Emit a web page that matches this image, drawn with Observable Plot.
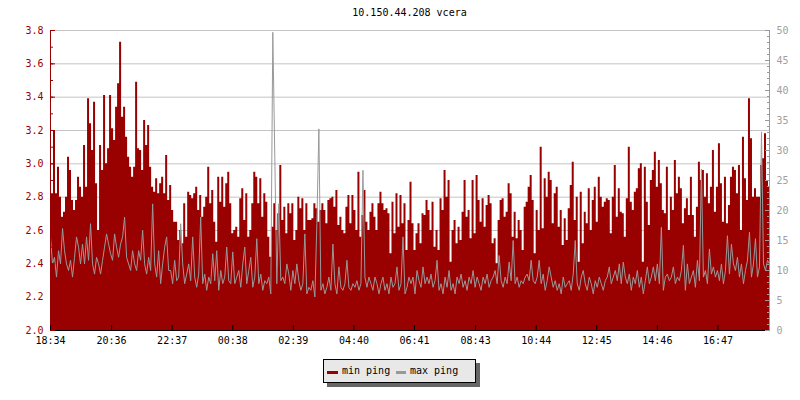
<!DOCTYPE html>
<html><head><meta charset="utf-8">
<script src="https://cdn.jsdelivr.net/npm/d3@7"></script>
<script src="https://cdn.jsdelivr.net/npm/@observablehq/plot@0.6"></script>
<style>
body{margin:0;background:#fff;font-family:"DejaVu Sans Mono",monospace;}
#wrap{position:relative;width:800px;height:400px;overflow:hidden;}
#title{position:absolute;top:7px;left:0;width:819px;text-align:center;font-size:10px;line-height:12px;color:#000;}
#legend{position:absolute;left:323px;top:359px;width:151px;height:22px;background:#e8e8e8;border:1px solid #000;box-shadow:4px 4px 0 #666;font-size:10px;}
#legend .sw{position:absolute;top:11px;height:3px;}
#legend .tx{position:absolute;top:5px;line-height:12px;color:#000;white-space:nowrap;}
</style></head><body>
<div id="wrap"><div id="chart"></div>
<div id="title">10.150.44.208 vcera</div>
<div id="legend"><span class="sw" id="sw1" style="left:3px;width:11px"></span><span class="tx" id="tx1" style="left:18px"></span><span class="sw" id="sw2" style="left:72px;width:10px"></span><span class="tx" id="tx2" style="left:86px"></span></div>
</div>
<script>
const seriesNames = ["min ping", "max ping"];
const seriesColors = ["#990000", "#999999"];
const stepMin = 4; // minutes between samples, starting 18:34
const xTickLabels = ["18:34","20:36","22:37","00:38","02:39","04:40","06:41","08:43","10:44","12:45","14:46","16:47"];
const leftTickLabels = ["2.0","2.2","2.4","2.6","2.8","3.0","3.2","3.4","3.6","3.8"];
const rightTickLabels = ["0","5","10","15","20","25","30","35","40","45","50"];

// min ping (left axis, ms)
const minPing = [
2.89,2.82,3.20,2.82,2.98,2.80,2.68,2.71,2.80,3.04,
2.96,2.78,2.72,2.78,2.92,2.86,2.80,3.11,2.86,3.39,
3.24,3.08,3.37,2.88,2.60,3.11,2.96,3.41,3.00,3.09,
3.41,3.21,3.14,3.34,3.48,3.73,3.28,3.34,3.16,3.04,
2.98,2.92,2.98,3.49,3.09,3.08,2.96,3.26,3.11,3.23,
2.98,2.86,2.83,2.91,2.82,2.88,2.92,2.82,3.05,2.78,
2.87,2.72,2.65,2.65,2.54,2.60,2.52,2.76,2.56,2.83,
2.81,2.79,2.82,2.86,2.72,2.81,2.68,2.74,2.80,2.98,
2.76,2.84,2.65,2.53,2.92,2.77,2.92,2.74,2.88,2.95,
2.76,2.58,2.60,2.62,2.56,2.79,2.85,2.66,2.82,2.56,
2.60,2.76,2.95,2.92,2.76,2.91,2.68,2.82,2.77,2.56,
2.44,2.62,2.76,2.60,2.70,2.99,2.66,2.74,2.58,2.76,
2.70,2.76,2.54,2.60,2.80,2.73,2.79,2.60,2.76,2.66,
2.66,2.67,2.76,2.73,2.65,2.72,2.76,2.72,2.64,2.78,
2.79,2.80,2.74,2.84,2.63,2.68,2.60,2.58,2.74,2.81,
2.64,2.81,2.72,2.60,2.95,2.56,2.69,2.84,2.65,2.60,
2.71,2.76,2.68,2.60,2.76,2.83,2.76,2.72,2.73,2.70,
2.46,2.77,2.58,2.82,2.62,2.81,2.64,2.76,2.48,2.66,
2.89,2.64,2.48,2.58,2.64,2.52,2.70,2.69,2.78,2.72,
2.60,2.77,2.50,2.60,2.48,2.79,2.72,2.96,2.80,2.90,
2.41,2.60,2.66,2.52,2.62,2.54,2.71,2.90,2.68,2.72,
2.55,2.90,2.58,2.93,2.78,2.65,2.79,2.62,2.75,2.81,
2.76,2.52,2.55,2.40,2.66,2.78,2.79,2.68,2.71,2.88,
2.82,2.56,2.71,2.55,2.66,2.60,2.48,2.74,2.77,2.86,
2.93,2.78,2.46,2.72,2.60,3.10,2.61,2.91,2.80,2.95,
2.90,2.64,2.82,2.86,2.62,2.72,2.51,2.67,2.54,2.73,
2.87,3.01,2.66,2.80,2.41,2.83,2.52,2.71,2.64,2.85,
2.60,2.78,2.86,2.65,2.92,2.80,2.74,2.77,2.79,2.78,
2.58,2.80,2.99,2.68,2.85,2.71,2.70,2.56,2.79,3.10,
2.77,2.72,2.83,2.85,2.97,3.00,2.41,2.98,2.77,2.63,
2.90,2.96,3.07,2.86,3.02,2.88,2.72,2.70,2.98,2.60,
2.80,2.72,3.02,2.82,2.92,2.85,2.64,2.73,2.79,2.69,
2.92,2.69,2.56,2.74,3.01,2.90,2.96,2.80,2.94,2.76,
2.86,3.08,2.71,2.86,3.12,2.88,2.65,2.92,2.64,2.75,
2.92,2.98,2.96,2.82,2.99,2.60,3.16,2.91,2.78,3.39,
3.15,2.80,2.85,2.80,2.80,2.99,3.03,3.18,2.90,2.86
];

// max ping (right axis, ms)
const maxPing = [
15.6,11.1,12.2,8.9,13.3,11.1,17.0,13.3,11.1,10.0,
11.7,8.9,12.2,15.6,13.9,11.1,14.4,11.1,15.6,11.7,
17.8,11.1,9.4,12.2,11.1,9.4,11.7,13.9,16.1,14.4,
12.8,11.7,16.1,13.9,12.2,14.4,15.6,18.9,12.2,11.1,
10.0,13.3,11.1,10.0,13.3,11.7,16.7,11.1,9.4,12.2,
10.0,21.1,11.1,8.9,13.3,7.8,11.1,13.9,15.6,10.0,
10.0,7.8,11.7,8.3,8.9,17.8,11.1,7.8,9.4,11.1,
8.3,15.6,8.9,7.2,9.4,18.9,7.8,9.4,6.7,8.9,
7.8,12.8,8.3,13.3,6.7,10.0,7.8,8.9,13.9,8.3,
7.8,13.1,7.8,8.9,10.0,7.2,11.1,13.9,7.8,10.0,
12.2,7.2,8.9,15.3,7.8,9.4,6.7,8.3,7.8,8.9,
6.1,49.7,28.9,7.8,21.1,8.3,8.9,7.8,11.1,9.4,
6.7,10.0,7.8,11.1,8.3,6.7,7.8,16.1,6.1,7.2,
6.7,8.3,5.6,17.8,33.6,6.7,7.8,6.1,7.2,8.9,
6.7,14.4,7.8,6.1,10.6,7.2,6.7,7.8,11.7,7.2,
6.7,7.8,7.2,8.3,6.7,7.8,26.7,8.9,7.2,8.9,
7.8,6.7,8.9,7.8,6.1,7.8,8.9,6.7,7.8,6.1,
8.9,7.2,7.8,10.6,6.7,7.8,15.6,6.1,7.2,8.9,
7.8,8.9,6.1,10.0,8.3,7.2,10.6,7.8,8.9,7.8,
9.4,7.2,8.3,11.7,6.7,7.8,6.1,8.9,7.2,10.0,
6.7,7.8,6.1,8.9,7.8,9.4,7.2,8.3,6.7,8.9,
7.8,10.0,7.2,8.9,7.8,6.7,8.9,7.8,9.4,7.2,
8.3,8.9,10.0,7.8,12.5,8.3,7.2,8.9,7.8,11.4,
8.3,15.0,7.8,8.9,7.2,8.3,7.8,8.9,9.4,8.3,
11.7,8.3,7.8,8.9,11.7,7.8,9.4,6.7,8.3,10.6,
8.9,7.2,8.3,6.7,7.8,6.1,8.9,7.2,7.8,8.3,
6.7,9.4,15.0,7.8,6.7,8.9,10.0,7.8,6.7,8.9,
7.8,6.1,8.3,7.2,8.9,7.8,6.7,8.3,8.9,10.6,
7.8,8.9,10.0,8.3,11.1,7.8,11.4,8.9,7.8,9.4,
6.7,8.9,7.8,10.0,7.2,8.9,6.1,8.3,10.6,7.8,
8.9,10.6,8.3,11.1,7.8,17.2,6.7,8.9,9.4,8.3,
8.9,10.6,7.8,8.9,8.3,10.0,14.2,6.7,11.1,7.8,
8.9,10.0,7.2,11.7,8.3,26.9,8.9,10.0,7.8,13.6,
9.4,10.6,8.9,10.0,8.3,11.1,7.8,10.0,15.8,9.4,
14.4,11.1,10.0,12.2,8.9,11.1,7.8,10.0,11.7,16.4,
8.9,11.1,15.3,8.9,10.6,33.1,11.1,10.0,11.7,11.1
];

const RED = seriesColors[0], GRAY = seriesColors[1];
const GRID = "#c4c4c4";
const leftVals = leftTickLabels.map(Number);
const yMin = leftVals[0], yMax = leftVals[leftVals.length - 1];
const rightVals = rightTickLabels.map(Number);
const rMax = rightVals[rightVals.length - 1];
const toLeft = v => yMin + v * (yMax - yMin) / rMax;

const toMin = s => { const [h, m] = s.split(":").map(Number); const [h0, m0] = xTickLabels[0].split(":").map(Number); return ((h * 60 + m) - (h0 * 60 + m0) + 1440) % 1440; };
const xTicks = xTickLabels.map(toMin);
const data = minPing.map((v, i) => ({t: i * stepMin, min: v, max: maxPing[i]}));
const xEnd = (minPing.length - 1) * stepMin;

const leftMinor = d3.range(0, 19).map(k => yMin + k * 0.1);
const rightPos = rightVals.map(toLeft);
const rightMinor = d3.range(0, rMax + 1).map(toLeft);
const lookup = (vals, labels) => d => { const i = vals.findIndex(v => Math.abs(v - d) < 1e-6); return i >= 0 ? labels[i] : ""; };
const none = () => "";

const chart = Plot.plot({
  width: 800, height: 400,
  marginLeft: 50, marginRight: 31, marginTop: 30, marginBottom: 70,
  style: {fontFamily: "DejaVu Sans Mono, monospace", fontSize: "10px", background: "transparent", overflow: "visible"},
  x: {domain: [0, xEnd], label: null},
  y: {domain: [yMin, yMax], label: null},
  marks: [
    Plot.ruleY(leftVals.slice(1), {stroke: GRID, strokeWidth: 1}),
    Plot.areaY(data, {x: "t", y1: yMin, y2: "min", curve: "step", fill: RED}),
    Plot.lineY(data, {x: "t", y: d => toLeft(d.max), stroke: GRAY, strokeWidth: 1}),
    Plot.ruleX([0], {stroke: RED}),
    Plot.ruleX([xEnd], {stroke: GRAY}),
    Plot.ruleY([yMin], {stroke: "#000"}),
    Plot.axisY({anchor: "left", label: null, ticks: leftVals, tickFormat: lookup(leftVals, leftTickLabels), tickSize: 0, tickPadding: 7, color: RED}),
    Plot.axisY({anchor: "left", label: null, ticks: leftVals, tickFormat: none, tickSize: 5, dx: 5, color: RED}),
    Plot.axisY({anchor: "left", label: null, ticks: leftMinor, tickFormat: none, tickSize: 3, dx: 3, color: RED}),
    Plot.axisY({anchor: "right", label: null, ticks: rightPos, tickFormat: lookup(rightPos, rightTickLabels), tickSize: 0, tickPadding: 7, color: "#a0a0a0"}),
    Plot.axisY({anchor: "right", label: null, ticks: rightPos, tickFormat: none, tickSize: 5, dx: -5, color: GRAY}),
    Plot.axisY({anchor: "right", label: null, ticks: rightMinor, tickFormat: none, tickSize: 3, dx: -3, color: GRAY}),
    Plot.axisX({anchor: "bottom", label: null, ticks: xTicks, tickFormat: lookup(xTicks, xTickLabels), tickSize: 0, tickPadding: 6, color: "#000"}),
    Plot.axisX({anchor: "bottom", label: null, ticks: xTicks, tickFormat: none, tickSize: 5, dy: -5, color: "#000"})
  ]
});
document.getElementById("chart").appendChild(chart);
document.getElementById("sw1").style.background = RED;
document.getElementById("sw2").style.background = GRAY;
document.getElementById("tx1").textContent = seriesNames[0];
document.getElementById("tx2").textContent = seriesNames[1];
</script>
</body></html>
